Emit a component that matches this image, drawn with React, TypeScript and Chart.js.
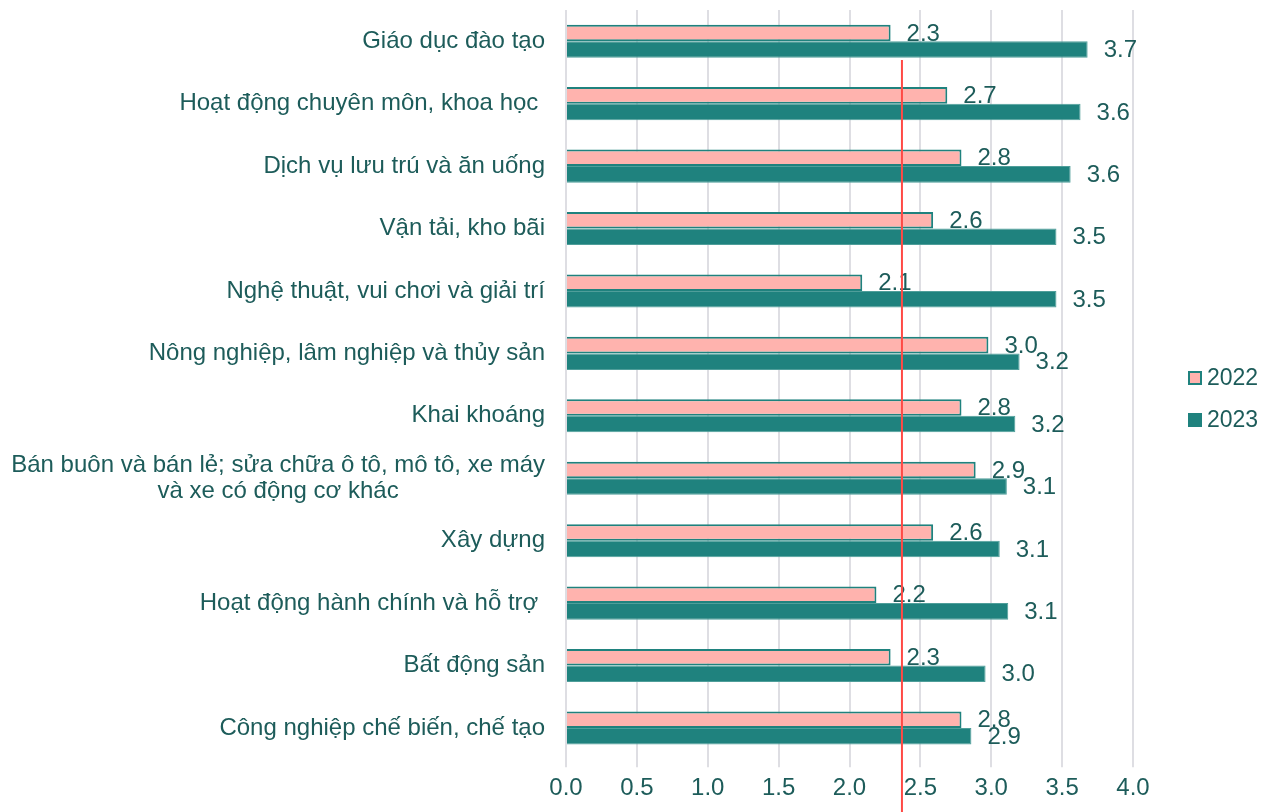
import React, { useEffect, useRef } from "react";
import { Chart, registerables } from "chart.js";
Chart.register(...registerables);

const categories: (string | string[])[] = [
  "Giáo dục đào tạo",
  "Hoạt động chuyên môn, khoa học ",
  "Dịch vụ lưu trú và ăn uống",
  "Vận tải, kho bãi",
  "Nghệ thuật, vui chơi và giải trí",
  "Nông nghiệp, lâm nghiệp và thủy sản",
  "Khai khoáng",
  ["Bán buôn và bán lẻ; sửa chữa ô tô, mô tô, xe máy", "và xe có động cơ khác"],
  "Xây dựng",
  "Hoạt động hành chính và hỗ trợ ",
  "Bất động sản",
  "Công nghiệp chế biến, chế tạo",
];

const values2022 = [2.29, 2.69, 2.79, 2.59, 2.09, 2.98, 2.79, 2.89, 2.59, 2.19, 2.29, 2.79];
const values2023 = [3.68, 3.63, 3.56, 3.46, 3.46, 3.2, 3.17, 3.11, 3.06, 3.12, 2.96, 2.86];
const seriesNames = ["2022", "2023"];
const xMin = 0;
const xMax = 4;
const xStep = 0.5;
const referenceValue = 2.37;

const TEXT = "#1d5c5a";
const TEAL = "#1f827e";
const PINK = "#ffb3ae";
const FONT = "'Liberation Sans', Arial, sans-serif";
const FS = 24;

const yLabelPlugin = {
  id: "yLabels",
  afterDraw(chart: any) {
    const { ctx, chartArea, scales } = chart;
    const ys = scales.y;
    ctx.save();
    ctx.font = `${FS}px ${FONT}`;
    ctx.fillStyle = TEXT;
    ctx.textBaseline = "middle";
    const right = chartArea.left - 21;
    categories.forEach((lab, i) => {
      const y = ys.getPixelForTick(i);
      if (Array.isArray(lab)) {
        const w = Math.max(...lab.map((l) => ctx.measureText(l).width));
        const cx = right - w / 2;
        const lh = 26;
        const start = y - ((lab.length - 1) * lh) / 2;
        ctx.textAlign = "center";
        lab.forEach((l, k) => ctx.fillText(l, cx, start + k * lh));
      } else {
        ctx.textAlign = "right";
        ctx.fillText(lab, right, y);
      }
    });
    ctx.restore();
  },
};

const dataLabelPlugin = {
  id: "dataLabels",
  afterDatasetsDraw(chart: any) {
    const { ctx } = chart;
    ctx.save();
    ctx.font = `${FS}px ${FONT}`;
    ctx.fillStyle = TEXT;
    ctx.textBaseline = "middle";
    ctx.textAlign = "left";
    chart.data.datasets.forEach((ds: any, di: number) => {
      const meta = chart.getDatasetMeta(di);
      meta.data.forEach((el: any, i: number) => {
        const v = ds.data[i] as number;
        ctx.fillText(v.toFixed(1), el.x + 16, el.y + 1);
      });
    });
    ctx.restore();
  },
};

const refLinePlugin = {
  id: "refLine",
  afterDraw(chart: any) {
    const { ctx, scales } = chart;
    const x = scales.x.getPixelForValue(referenceValue);
    ctx.save();
    ctx.strokeStyle = "#ff4a45";
    ctx.lineWidth = 2;
    ctx.beginPath();
    ctx.moveTo(x, 60);
    ctx.lineTo(x, chart.height);
    ctx.stroke();
    ctx.restore();
  },
};

const legendPlugin = {
  id: "customLegend",
  afterDraw(chart: any) {
    const { ctx } = chart;
    ctx.save();
    ctx.font = `23px ${FONT}`;
    ctx.textBaseline = "middle";
    ctx.textAlign = "left";
    const items = [
      { name: seriesNames[0], fill: PINK, stroke: TEAL, y: 378 },
      { name: seriesNames[1], fill: TEAL, stroke: TEAL, y: 420 },
    ];
    items.forEach((it) => {
      ctx.fillStyle = it.fill;
      ctx.strokeStyle = it.stroke;
      ctx.lineWidth = 2;
      ctx.fillRect(1189, it.y - 6, 12, 12);
      ctx.strokeRect(1189, it.y - 6, 12, 12);
      ctx.fillStyle = TEXT;
      ctx.fillText(it.name, 1207, it.y + 1);
    });
    ctx.restore();
  },
};

export default function App() {
  const ref = useRef<HTMLCanvasElement | null>(null);
  useEffect(() => {
    if (!ref.current) return;
    const chart = new Chart(ref.current, {
      type: "bar",
      data: {
        labels: categories.map((c) => (Array.isArray(c) ? c.join(" ") : c)),
        datasets: [
          {
            label: seriesNames[0],
            data: values2022,
            backgroundColor: PINK,
            borderColor: TEAL,
            borderWidth: 2,
            borderSkipped: "start",
            categoryPercentage: 0.53,
            barPercentage: 1,
          },
          {
            label: seriesNames[1],
            data: values2023,
            backgroundColor: TEAL,
            borderColor: "#4f9e9a",
            borderWidth: 1,
            borderSkipped: "start",
            categoryPercentage: 0.53,
            barPercentage: 1,
          },
        ],
      },
      options: {
        indexAxis: "y",
        animation: false,
        responsive: true,
        maintainAspectRatio: false,
        layout: { padding: { top: 10, right: 137, bottom: 2, left: 0 } },
        plugins: {
          legend: { display: false },
          tooltip: { enabled: false },
        },
        scales: {
          x: {
            min: xMin,
            max: xMax,
            grid: { color: "#dedee3", lineWidth: 2, tickLength: 8, drawTicks: true },
            border: { display: false },
            ticks: {
              stepSize: xStep,
              color: TEXT,
              font: { size: FS, family: FONT },
              padding: 7,
              callback: (v: any) => Number(v).toFixed(1),
            },
          },
          y: {
            grid: { display: false },
            border: { display: false },
            ticks: { display: false },
            afterFit: (s: any) => {
              s.width = 566;
            },
          },
        },
      },
      plugins: [yLabelPlugin, dataLabelPlugin, refLinePlugin, legendPlugin],
    });
    return () => chart.destroy();
  }, []);
  return (
    <div style={{ position: "fixed", left: 0, top: 0, width: 1270, height: 812 }}>
      <canvas ref={ref} />
    </div>
  );
}
